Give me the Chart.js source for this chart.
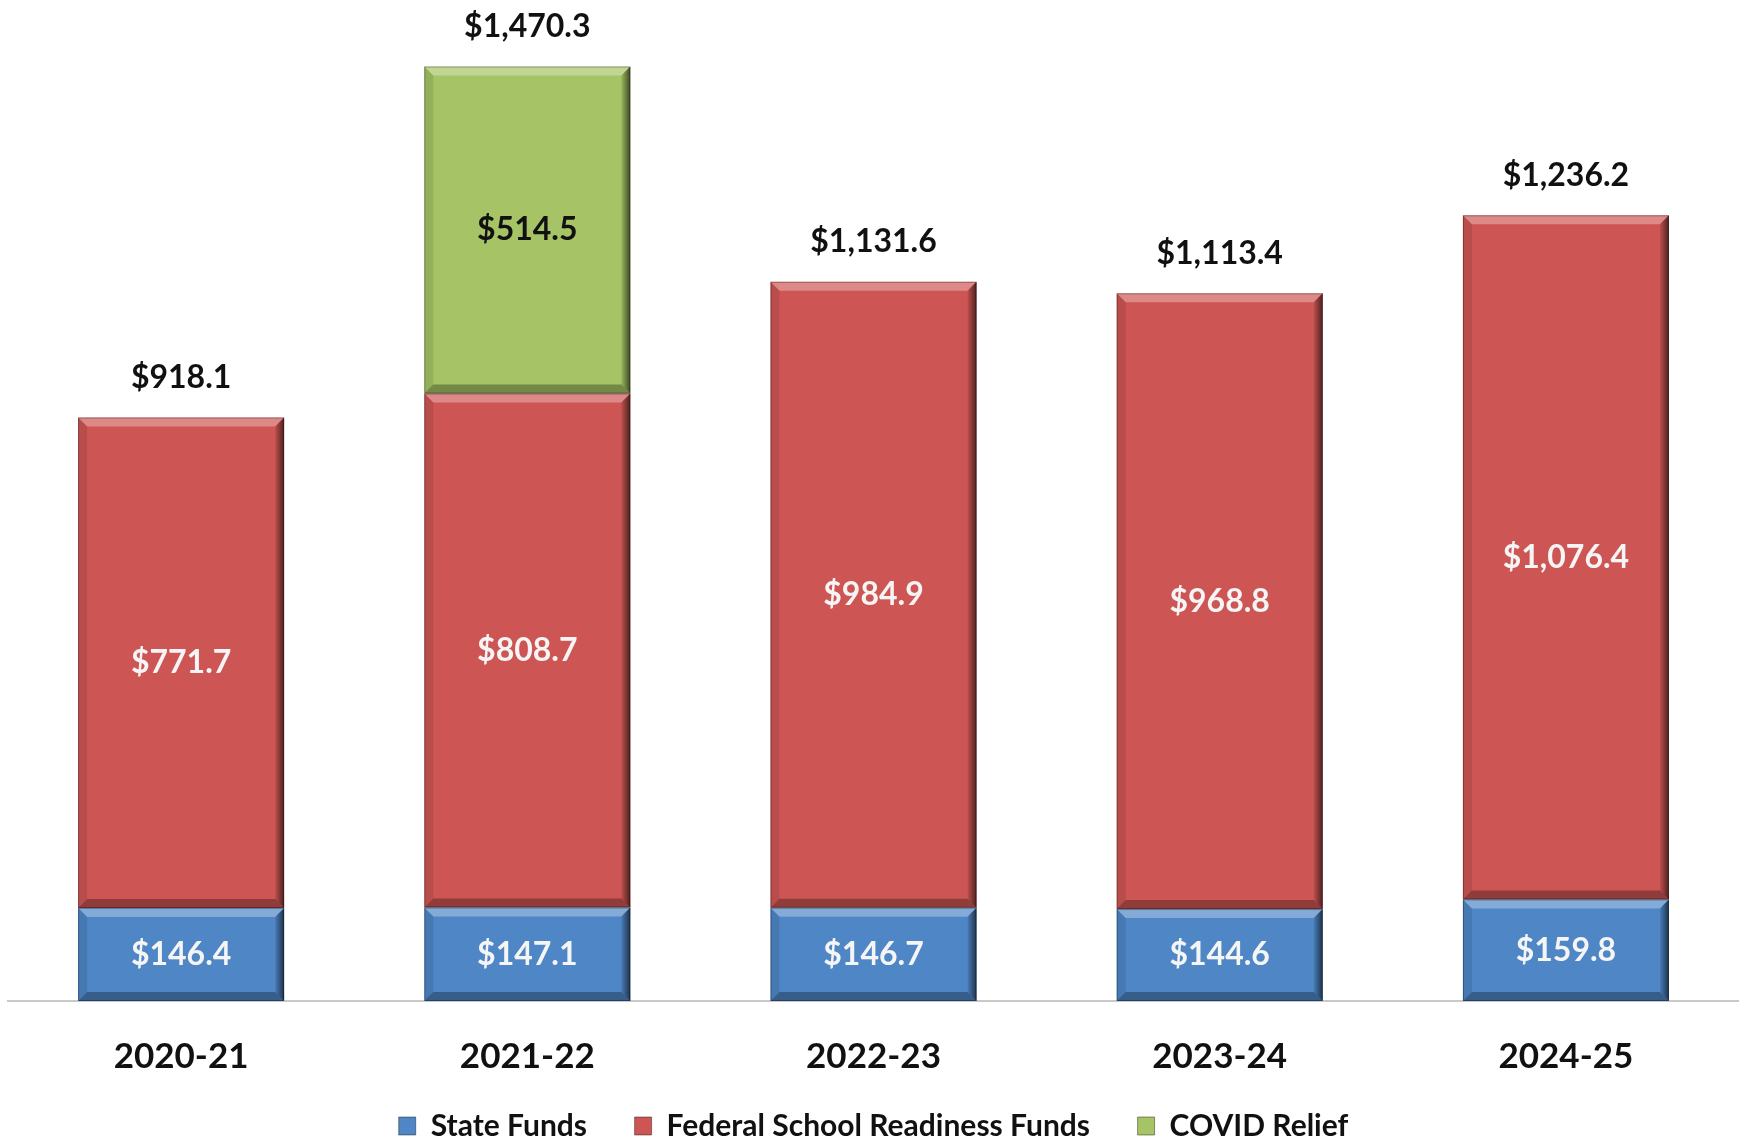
<!DOCTYPE html>
<html>
<head>
<meta charset="utf-8">
<script src="https://cdn.jsdelivr.net/npm/chart.js@4.4.1/dist/chart.umd.min.js"></script>
<style>
  html, body { margin: 0; padding: 0; background: #fff; }
  #wrap { width: 1739px; height: 1142px; position: relative; }
</style>
</head>
<body>
<div id="wrap"><canvas id="chart"></canvas></div>
<script>
// School readiness funding by year ($ millions)
const years = ['2020-21', '2021-22', '2022-23', '2023-24', '2024-25'];
const stateFunds = [146.4, 147.1, 146.7, 144.6, 159.8];
const federalFunds = [771.7, 808.7, 984.9, 968.8, 1076.4];
const covidRelief = [null, 514.5, null, null, null];
const totals = [918.1, 1470.3, 1131.6, 1113.4, 1236.2];

const seriesNames = ['State Funds', 'Federal School Readiness Funds', 'COVID Relief'];
const seriesColors = ['#4f86c6', '#cd5654', '#a6c465'];
const labelColors = ['#f5f5f5', '#f5f5f5', '#111111'];

const FONT = 'Lato';
const fmt = v => '$' + v.toLocaleString('en-US', { minimumFractionDigits: 1, maximumFractionDigits: 1 });

// bevel look like the office "3-D" bars
const bevelPlugin = {
  id: 'bevel',
  afterDatasetsDraw(chart) {
    const ctx = chart.ctx;
    const b = 9;
    chart.data.datasets.forEach((ds, di) => {
      const meta = chart.getDatasetMeta(di);
      meta.data.forEach((el, i) => {
        if (ds.data[i] == null) return;
        const p = el.getProps(['x', 'y', 'base', 'width'], true);
        const l = p.x - p.width / 2, r = p.x + p.width / 2;
        const t = Math.min(p.y, p.base), bt = Math.max(p.y, p.base);
        ctx.save();
        // top
        ctx.fillStyle = 'rgba(255,255,255,0.3)';
        ctx.beginPath();
        ctx.moveTo(l, t); ctx.lineTo(r, t); ctx.lineTo(r - b, t + b); ctx.lineTo(l + b, t + b);
        ctx.closePath(); ctx.fill();
        // left
        ctx.fillStyle = 'rgba(0,0,0,0.10)';
        ctx.beginPath();
        ctx.moveTo(l, t); ctx.lineTo(l + b, t + b); ctx.lineTo(l + b, bt - b); ctx.lineTo(l, bt);
        ctx.closePath(); ctx.fill();
        // bottom
        ctx.fillStyle = 'rgba(0,0,0,0.3)';
        ctx.beginPath();
        ctx.moveTo(l, bt); ctx.lineTo(l + b, bt - b); ctx.lineTo(r - b, bt - b); ctx.lineTo(r, bt);
        ctx.closePath(); ctx.fill();
        // right
        const g = ctx.createLinearGradient(r - b, 0, r, 0);
        g.addColorStop(0, 'rgba(0,0,0,0.08)');
        g.addColorStop(1, 'rgba(0,0,0,0.62)');
        ctx.fillStyle = g;
        ctx.beginPath();
        ctx.moveTo(r, t); ctx.lineTo(r, bt); ctx.lineTo(r - b, bt - b); ctx.lineTo(r - b, t + b);
        ctx.closePath(); ctx.fill();
        ctx.strokeStyle = 'rgba(0,0,0,0.3)';
        ctx.lineWidth = 1;
        ctx.strokeRect(l + 0.5, t + 0.5, r - l - 1, bt - t - 1);
        ctx.restore();
      });
    });
  }
};

const labelPlugin = {
  id: 'valueLabels',
  afterDatasetsDraw(chart) {
    const ctx = chart.ctx;
    ctx.save();
    ctx.textAlign = 'center';
    ctx.textBaseline = 'middle';
    ctx.font = `bold 32px ${FONT}`;
    const tops = years.map(() => Infinity);
    chart.data.datasets.forEach((ds, di) => {
      const meta = chart.getDatasetMeta(di);
      meta.data.forEach((el, i) => {
        if (ds.data[i] == null) return;
        const p = el.getProps(['x', 'y', 'base'], true);
        ctx.fillStyle = labelColors[di];
        ctx.fillText(fmt(ds.data[i]), p.x, (p.y + p.base) / 2);
        tops[i] = Math.min(tops[i], p.y);
      });
    });
    const x0 = chart.getDatasetMeta(0);
    ctx.fillStyle = '#111';
    totals.forEach((v, i) => {
      ctx.fillText(fmt(v), x0.data[i].x, tops[i] - 40);
    });
    ctx.restore();
  }
};

new Chart(document.getElementById('chart'), {
  type: 'bar',
  data: {
    labels: years,
    datasets: [
      { label: seriesNames[0], data: stateFunds, backgroundColor: seriesColors[0] },
      { label: seriesNames[1], data: federalFunds, backgroundColor: seriesColors[1] },
      { label: seriesNames[2], data: covidRelief, backgroundColor: seriesColors[2] }
    ]
  },
  options: {
    responsive: true,
    maintainAspectRatio: false,
    animation: false,
    layout: { padding: { left: 8, right: 0, top: 0, bottom: -9 } },
    datasets: { bar: { categoryPercentage: 1, barPercentage: 0.595, borderWidth: 0 } },
    scales: {
      x: {
        stacked: true,
        grid: { display: false, drawTicks: false },
        border: { display: true, color: '#c9c9c9', width: 2 },
        ticks: { color: '#111', padding: 35, font: { family: FONT, size: 35, weight: 'bold' } },
        // keep the axis box tight so the legend sits close underneath
        afterFit: s => { s.height = 77; }
      },
      y: { stacked: true, display: false, min: 0, max: 1575 }
    },
    plugins: {
      legend: {
        position: 'bottom',
        labels: {
          color: '#111',
          boxWidth: 17,
          boxHeight: 18,
          padding: 33,
          font: { family: FONT, size: 30, weight: 'bold' },
          generateLabels: chart => chart.data.datasets.map((ds, i) => ({
            // a little extra room after the first two items, like the original
            text: i < 2 ? ds.label + '  ' : ds.label,
            fillStyle: ds.backgroundColor,
            strokeStyle: 'rgba(0,0,0,0.4)',
            lineWidth: 1,
            fontColor: '#111',
            datasetIndex: i,
            hidden: false
          }))
        }
      },
      tooltip: { enabled: false }
    }
  },
  plugins: [bevelPlugin, labelPlugin]
});
</script>
</body>
</html>
